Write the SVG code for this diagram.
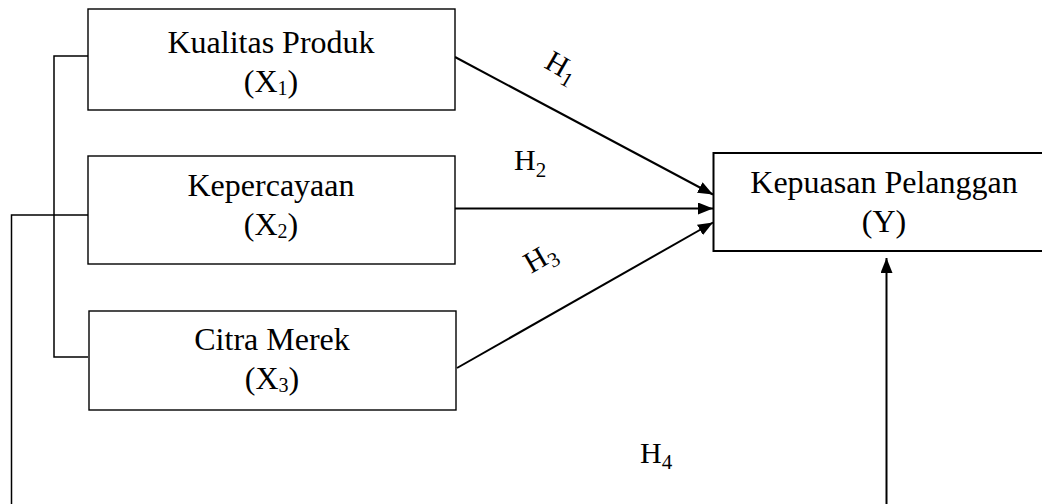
<svg xmlns="http://www.w3.org/2000/svg" width="1042" height="504" viewBox="0 0 1042 504">
<style>
.box{fill:#fff;stroke:#000;stroke-width:1.4}
.boxy{fill:#fff;stroke:#000;stroke-width:2}
.t{font-family:"Liberation Serif","Times New Roman",serif;font-size:32px;fill:#000;text-anchor:middle}
.sub{font-size:20px}
.h{font-family:"Liberation Serif","Times New Roman",serif;font-size:30px;fill:#000}
.hs{font-size:21px}
.ln{fill:none;stroke:#000;stroke-width:1.5}
.ar{fill:none;stroke:#000;stroke-width:2}
</style>
<defs>
<marker id="ah" viewBox="0 0 15 12" refX="15" refY="6" markerWidth="15" markerHeight="12" markerUnits="userSpaceOnUse" orient="auto">
<path d="M0,0 L15,6 L0,12 Z" fill="#000"/>
</marker>
</defs>
<g id="connectors">
<polyline class="ln" points="88,56 54,56 54,357 88,357"/>
<polyline class="ln" points="88,215 11.5,215 11.5,504"/>
<line class="ar" x1="455" y1="57" x2="713" y2="194.5" marker-end="url(#ah)"/>
<line class="ar" x1="455" y1="208.5" x2="713" y2="208.5" marker-end="url(#ah)"/>
<line class="ar" x1="457" y1="368" x2="713" y2="222.5" marker-end="url(#ah)"/>
<line class="ar" x1="886.5" y1="504" x2="886.5" y2="258" marker-end="url(#ah)"/>
<text class="h" transform="translate(543,67) rotate(30)">H<tspan class="hs" dy="6">1</tspan></text>
<text class="h" x="514" y="170">H<tspan class="hs" dy="7">2</tspan></text>
<text class="h" transform="translate(531,274) rotate(-30)">H<tspan class="hs" dy="6">3</tspan></text>
<text class="h" x="640" y="463">H<tspan class="hs" dy="6">4</tspan></text>
</g>
<g id="x1">
<rect class="box" x="88" y="9" width="367" height="101"/>
<text class="t" x="271" y="53">Kualitas Produk</text>
<text class="t" x="271" y="92">(X<tspan class="sub" dy="3">1</tspan><tspan dy="-3">)</tspan></text>
</g>
<g id="x2">
<rect class="box" x="88" y="156" width="367" height="108"/>
<text class="t" x="271" y="196">Kepercayaan</text>
<text class="t" x="271" y="235">(X<tspan class="sub" dy="3">2</tspan><tspan dy="-3">)</tspan></text>
</g>
<g id="x3">
<rect class="box" x="89" y="311" width="367" height="99"/>
<text class="t" x="272" y="350">Citra Merek</text>
<text class="t" x="272" y="389">(X<tspan class="sub" dy="3">3</tspan><tspan dy="-3">)</tspan></text>
</g>
<g id="y">
<rect class="boxy" x="713.5" y="153" width="340" height="98"/>
<text class="t" x="884" y="193">Kepuasan Pelanggan</text>
<text class="t" x="884" y="232">(Y)</text>
</g>
</svg>
